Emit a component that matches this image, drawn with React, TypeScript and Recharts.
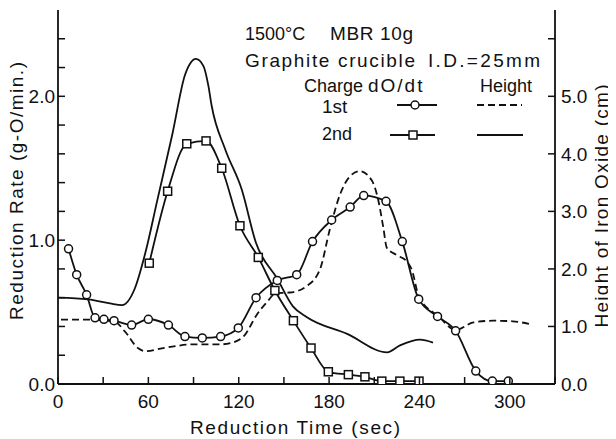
import React from 'react';
import { LineChart, Line, XAxis, YAxis } from 'recharts';

// ---- data ----
const xTicks = [0, 30, 60, 90, 120, 150, 180, 210, 240, 270, 300, 330];
const xLabels = [0, 60, 120, 180, 240, 300];
const leftTicks = [0, 0.2, 0.4, 0.6, 0.8, 1.0, 1.2, 1.4, 1.6, 1.8, 2.0, 2.2, 2.4];
const leftLabels = [0, 1, 2];
const rightTicks = [0, 1, 2, 3, 4, 5, 6];
const rightLabels = [0, 1, 2, 3, 4, 5];

// 1st charge, dO/dt (circles), g-O/min
const rate1Time = [7, 12.4, 19, 24.6, 30.5, 37.2, 48.9, 60, 73.3, 84.3, 95.8, 108, 119.7, 131.5, 145.6, 158.5, 169, 181.7, 194, 203, 217.8, 228.6, 239.5, 252, 264, 277.4, 288.4, 299];
const rate1Value = [0.94, 0.76, 0.62, 0.46, 0.45, 0.44, 0.41, 0.45, 0.41, 0.33, 0.32, 0.33, 0.39, 0.6, 0.72, 0.76, 0.99, 1.14, 1.23, 1.31, 1.27, 0.99, 0.59, 0.47, 0.37, 0.09, 0.02, 0.02];

// 2nd charge, dO/dt (squares), g-O/min
const rate2Time = [60.6, 72.8, 85.5, 98.3, 108.7, 120.8, 133, 144, 156.3, 168, 179.5, 192.8, 203.8, 215, 227, 239.7];
const rate2Value = [0.84, 1.34, 1.67, 1.69, 1.5, 1.1, 0.88, 0.65, 0.44, 0.25, 0.085, 0.065, 0.05, 0.02, 0.02, 0.02];

// 1st charge, height (dashed), cm
const height1Time = [2, 20, 37.8, 44.5, 53.3, 57.8, 71, 91, 108.5, 116, 124, 131.9, 138.6, 145, 154, 165, 173.9, 180.6, 187.2, 193.9, 200.5, 208.3, 212.7, 216, 218.3, 224.9, 231.6, 235, 239.7, 252.5, 264, 275.8, 289, 302, 313.4];
const height1Value = [1.12, 1.12, 1.08, 0.91, 0.62, 0.57, 0.63, 0.69, 0.69, 0.72, 0.85, 1.2, 1.42, 1.58, 1.59, 1.7, 1.99, 2.7, 3.29, 3.61, 3.7, 3.54, 3.19, 2.72, 2.37, 2.24, 2.13, 1.98, 1.51, 1.18, 0.94, 1.07, 1.1, 1.09, 1.04];

// 2nd charge, height (solid), cm
const height2Time = [0, 20, 34.5, 42.5, 51, 58, 66, 76, 84.3, 88, 91.5, 96.5, 99.8, 102, 111, 122, 131.5, 145.6, 156, 165.3, 192, 218.5, 227.1, 240.4, 249];
const height2Value = [1.5, 1.47, 1.4, 1.37, 1.66, 2.28, 3.2, 4.35, 5.37, 5.58, 5.65, 5.53, 5.19, 4.84, 4.08, 3.38, 2.45, 1.83, 1.35, 1.16, 0.87, 0.55, 0.67, 0.77, 0.72];

const zip = (ts: number[], vs: number[]) => ts.map((t, i) => ({ t, v: vs[i] }));
const rate1 = zip(rate1Time, rate1Value);
const rate2 = zip(rate2Time, rate2Value);
const height1 = zip(height1Time, height1Value);
const height2 = zip(height2Time, height2Value);

const INK = '#111';
const FONT = '"Liberation Sans", Arial, sans-serif';
const LW = 1.8;

const isInt = (v: number) => Math.abs(v - Math.round(v)) < 1e-6;

const BottomTick = (p: any) => {
  const { x, y, payload } = p;
  const v = payload.value;
  const show = xLabels.some((l) => Math.abs(l - v) < 1e-6);
  return (
    <g>
      <line x1={x} y1={y} x2={x} y2={y - 7} stroke={INK} strokeWidth={1.5} />
      {show && (
        <text x={x} y={y + 24} textAnchor="middle" fontSize={19} fontFamily={FONT} fill={INK}>
          {String(v)}
        </text>
      )}
    </g>
  );
};

const LeftTick = (p: any) => {
  const { x, y, payload } = p;
  const v = payload.value;
  const show = isInt(v) && leftLabels.includes(Math.round(v));
  return (
    <g>
      <line x1={x} y1={y} x2={x + 7} y2={y} stroke={INK} strokeWidth={1.5} />
      {show && (
        <text x={x - 3} y={y} dy="0.36em" textAnchor="end" fontSize={19} fontFamily={FONT} fill={INK}>
          {v.toFixed(1)}
        </text>
      )}
    </g>
  );
};

const RightTick = (p: any) => {
  const { x, y, payload } = p;
  const v = payload.value;
  const show = rightLabels.includes(Math.round(v));
  return (
    <g>
      <line x1={x} y1={y} x2={x - 7} y2={y} stroke={INK} strokeWidth={1.5} />
      {show && (
        <text x={x + 6} y={y} dy="0.36em" textAnchor="start" fontSize={19} fontFamily={FONT} fill={INK}>
          {v.toFixed(1)}
        </text>
      )}
    </g>
  );
};

const circleDot = (p: any) => (
  <circle key={`c-${p.index}`} cx={p.cx} cy={p.cy} r={4} fill="#fff" stroke={INK} strokeWidth={1.5} />
);
const squareDot = (p: any) => (
  <rect key={`s-${p.index}`} x={p.cx - 4} y={p.cy - 4} width={8} height={8} fill="#fff" stroke={INK} strokeWidth={1.5} />
);

const W = 608;
const H = 431;

const T = (props: any) => (
  <text fontFamily={FONT} fill={INK} fontSize={19} lengthAdjust="spacing" {...props} />
);

export default function App() {
  return (
    <div style={{ position: 'relative', width: W, height: H }}>
      <LineChart width={W} height={H} margin={{ top: 2, right: 0, bottom: 0, left: 0 }}>
        <XAxis
          xAxisId="b"
          dataKey="t"
          type="number"
          domain={[0, 330]}
          ticks={xTicks}
          interval={0}
          height={55}
          tickSize={0}
          tickMargin={0}
          tickLine={false}
          tick={<BottomTick />}
          axisLine={{ stroke: INK, strokeWidth: LW }}
          allowDataOverflow
        />
        <XAxis
          xAxisId="top"
          orientation="top"
          dataKey="t"
          type="number"
          domain={[0, 330]}
          height={0}
          tick={false}
          tickLine={false}
          axisLine={{ stroke: INK, strokeWidth: LW }}
        />
        <YAxis
          yAxisId="left"
          type="number"
          domain={[0, 2.6]}
          ticks={leftTicks}
          interval={0}
          width={50}
          tickSize={0}
          tickMargin={0}
          tickLine={false}
          tick={<LeftTick />}
          axisLine={{ stroke: INK, strokeWidth: LW }}
          allowDataOverflow
        />
        <YAxis
          yAxisId="right"
          orientation="right"
          type="number"
          domain={[0, 6.5]}
          ticks={rightTicks}
          interval={0}
          width={61}
          tickSize={0}
          tickMargin={0}
          tickLine={false}
          tick={<RightTick />}
          axisLine={{ stroke: INK, strokeWidth: LW }}
          allowDataOverflow
        />
        <Line
          xAxisId="b"
          yAxisId="right"
          data={height1}
          dataKey="v"
          type="monotone"
          stroke={INK}
          strokeWidth={LW}
          strokeDasharray="7 4"
          dot={false}
          isAnimationActive={false}
        />
        <Line
          xAxisId="b"
          yAxisId="right"
          data={height2}
          dataKey="v"
          type="monotone"
          stroke={INK}
          strokeWidth={LW}
          dot={false}
          isAnimationActive={false}
        />
        <Line
          xAxisId="b"
          yAxisId="left"
          data={rate1}
          dataKey="v"
          type="monotone"
          stroke={INK}
          strokeWidth={LW}
          dot={circleDot}
          isAnimationActive={false}
        />
        <Line
          xAxisId="b"
          yAxisId="left"
          data={rate2}
          dataKey="v"
          type="monotone"
          stroke={INK}
          strokeWidth={LW}
          dot={squareDot}
          isAnimationActive={false}
        />
      </LineChart>
      {/* overlay in page coordinates */}
      <svg
        width={616}
        height={439}
        style={{ position: 'absolute', left: -8, top: -8, pointerEvents: 'none', overflow: 'visible' }}
      >
        {/* axis titles */}
        <T x={190} y={434} textLength={210}>Reduction  Time  (sec)</T>
        <T x={23} y={191} textAnchor="middle" textLength={258} transform="rotate(-90 23 191)">
          Reduction  Rate  (g-O/min.)
        </T>
        <T x={608} y={206} textAnchor="middle" textLength={243} transform="rotate(-90 608 206)">
          Height  of  Iron  Oxide  (cm)
        </T>
        {/* annotation block */}
        <T x={245} y={40} fontSize={18}>1500°C</T>
        <T x={330} y={40} fontSize={19} textLength={83}>MBR 10g</T>
        <T x={245} y={67} fontSize={19} textLength={170}>Graphite crucible</T>
        <T x={428} y={67} fontSize={19} textLength={112}>I.D.=25mm</T>
        <T x={304} y={92} fontSize={18}>Charge</T>
        <T x={368} y={92} fontSize={19} letterSpacing={2}>dO/dt</T>
        <T x={480} y={92} fontSize={18}>Height</T>
        <T x={322} y={113} fontSize={19}>1st</T>
        <T x={322} y={140} fontSize={18}>2nd</T>
        {/* legend symbols */}
        <line x1={397} y1={105} x2={437} y2={105} stroke={INK} strokeWidth={LW} />
        <circle cx={415} cy={105} r={4} fill="#fff" stroke={INK} strokeWidth={1.5} />
        <line x1={477} y1={105} x2={522} y2={105} stroke={INK} strokeWidth={LW} strokeDasharray="7 4" />
        <line x1={390} y1={135} x2={435} y2={135} stroke={INK} strokeWidth={LW} />
        <rect x={409} y={131} width={8} height={8} fill="#fff" stroke={INK} strokeWidth={1.5} />
        <line x1={477} y1={135} x2={523} y2={135} stroke={INK} strokeWidth={LW} />
      </svg>
    </div>
  );
}
